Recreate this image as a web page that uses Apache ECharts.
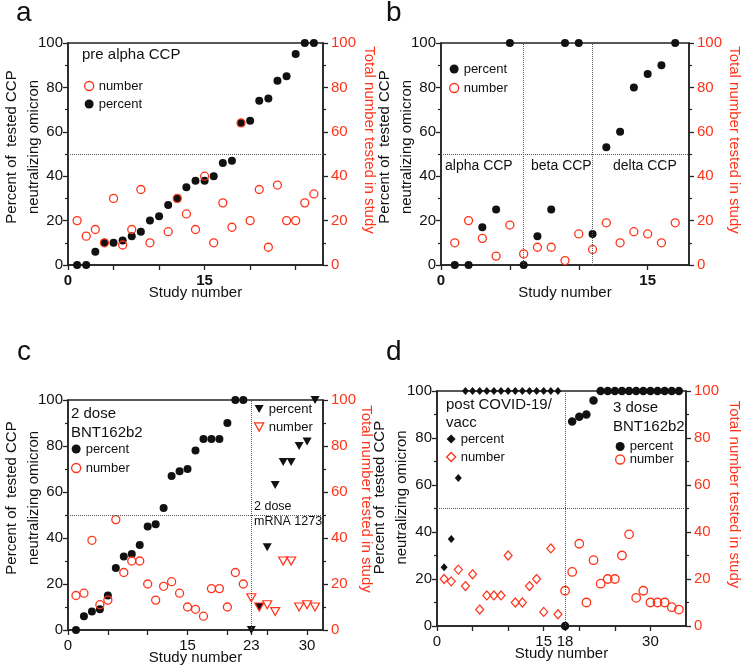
<!DOCTYPE html>
<html>
<head>
<meta charset="utf-8">
<title>Omicron neutralization by CCP and vaccinee sera</title>
<script src="https://cdn.jsdelivr.net/npm/echarts@6/dist/echarts.min.js"></script>
<style>
  html, body { margin: 0; padding: 0; background: #fff; }
  #chart { width: 746px; height: 667px; }
</style>
</head>
<body>
<div id="chart"></div>
<script>
// a: pre alpha CCP
const studyA = [1, 2, 3, 4, 5, 6, 7, 8, 9, 10, 11, 12, 13, 14, 15, 16, 17, 18, 19, 20, 21, 22, 23, 24, 25, 26, 27]
const percentA = [0, 0, 6, 10, 10, 11, 13, 15, 20, 22, 27, 30, 35, 38, 38, 40, 46, 47, 64, 65, 74, 75, 83, 85, 95, 100, 100]
const numberA = [20, 13, 16, 10, 30, 9, 16, 34, 10, null, 15, 30, 23, 16, 40, 10, 28, 17, 64, 20, 34, 8, 36, 20, 20, 28, 32]

// b: alpha / beta / delta CCP
const studyB = [1, 2, 3, 4, 5, 6, 7, 8, 9, 10, 11, 12, 13, 14, 15, 16, 17]
const percentB = [0, 0, 17, 25, 100, 0, 13, 25, 100, 100, 14, 53, 60, 80, 86, 90, 100]
const numberB = [10, 20, 12, 4, 18, 5, 8, 8, 2, 14, 7, 19, 10, 15, 14, 10, 19]
const dividersB = [6, 11]

// c: 2 dose BNT162b2 and 2 dose mRNA 1273
const studyBnt = [1, 2, 3, 4, 5, 6, 7, 8, 9, 10, 11, 12, 13, 14, 15, 16, 17, 18, 19, 20, 21, 22]
const percentBnt = [0, 6, 8, 9, 15, 27, 32, 33, 37, 45, 46, 53, 67, 69, 70, 78, 83, 83, 83, 90, 100, 100]
const numberBnt = [15, 16, 39, 11, 13, 48, 25, 30, 30, 20, 13, 19, 21, 16, 10, 9, 6, 18, 18, 10, 25, 20]
const studyMrna = [23, 24, 25, 26, 27, 28, 29, 30, 31]
const percentMrna = [0, 10, 36, 63, 73, 73, 80, 82, 100]
const numberMrna = [14, 10, 11, 8, 30, 30, 10, 11, 10]

// d: post COVID-19/vacc and 3 dose BNT162b2
const studyPost = [1, 2, 3, 4, 5, 6, 7, 8, 9, 10, 11, 12, 13, 14, 15, 16, 17]
const percentPost = [25, 37, 63, 100, 100, 100, 100, 100, 100, 100, 100, 100, 100, 100, 100, 100, 100]
const numberPost = [20, 19, 24, 17, 22, 7, 13, 13, 13, 30, 10, 10, 17, 20, 6, 33, 5]
const studyBoost = [18, 19, 20, 21, 22, 23, 24, 25, 26, 27, 28, 29, 30, 31, 32, 33, 34]
const percentBoost = [0, 87, 89, 90, 96, 100, 100, 100, 100, 100, 100, 100, 100, 100, 100, 100, 100]
const numberBoost = [15, 23, 35, 10, 28, 18, 20, 20, 30, 39, 12, 15, 10, 10, 10, 8, 7]

const FONT = "'Liberation Sans', Arial, sans-serif"
const BLACK = '#111'
const RED = '#ff3319'
const AXIS = '#222'
const TRI = 'path://M0,0L10,0L5,9Z'

const pairs = (xs, ys) => xs.map((x, i) => [x, ys[i] == null ? '-' : ys[i]])

var myChart = echarts.init(document.getElementById('chart'))
window.onresize = function () {
  myChart.resize()
}

const grids = [
  { left: 66, top: 43, width: 257, height: 222 },
  { left: 441, top: 43, width: 256, height: 222 },
  { left: 66, top: 400, width: 257, height: 230 },
  { left: 437, top: 391, width: 257, height: 235 },
].map((g) => ({ ...g, show: true, borderColor: AXIS, borderWidth: 1.5, backgroundColor: 'transparent' }))

const xAxis = (gridIndex, max, ticks, labels, bold) => ({
  type: 'value',
  gridIndex: gridIndex,
  min: 0,
  max: max,
  interval: 5,
  name: 'Study number',
  nameLocation: 'middle',
  nameGap: 20,
  nameMoveOverlap: false,
  nameTextStyle: { color: BLACK, fontSize: 15, fontFamily: FONT },
  axisLine: { lineStyle: { color: AXIS, width: 1.5 } },
  axisTick: { length: 5, customValues: ticks, lineStyle: { color: AXIS, width: 1.3 } },
  axisLabel: {
    customValues: labels,
    color: BLACK,
    fontSize: 15,
    fontWeight: bold ? 'bold' : 'normal',
    fontFamily: FONT,
    margin: 8,
  },
  splitLine: { show: false },
})

const yAxis = (gridIndex, right, gap, shift) => ({
  type: 'value',
  gridIndex: gridIndex,
  position: right ? 'right' : 'left',
  min: 0,
  max: 100,
  interval: 20,
  name: right ? 'Total number tested in study' : 'Percent of  tested CCP\nneutralizing omicron',
  nameLocation: 'middle',
  nameRotate: right ? -90 : 90,
  nameGap: gap,
  nameMoveOverlap: false,
  nameTextStyle: {
    color: right ? RED : BLACK,
    fontSize: 15,
    lineHeight: 22,
    fontFamily: FONT,
    padding: right ? [0, shift, 0, 0] : [0, 0, 0, shift],
  },
  axisLine: { show: true, lineStyle: { color: AXIS, width: 1.5 } },
  axisTick: { length: 5, lineStyle: { color: AXIS, width: 1.3 } },
  minorTick: { show: true, splitNumber: 2, length: 3, lineStyle: { color: AXIS, width: 1.2 } },
  axisLabel: { color: right ? RED : BLACK, fontSize: 15, fontFamily: FONT, margin: right ? 8 : 5 },
  splitLine: { show: false },
  minorSplitLine: { show: false },
})

const guide = (lines) => ({
  silent: true,
  symbol: 'none',
  label: { show: false },
  lineStyle: { type: 'dotted', color: '#555', width: 1 },
  data: lines,
})

const dots = (name, xi, yi, data, extra) => ({
  name: name,
  type: 'scatter',
  xAxisIndex: xi,
  yAxisIndex: yi,
  clip: false,
  symbol: 'circle',
  symbolSize: 8,
  itemStyle: { color: BLACK, opacity: 1 },
  data: data,
  ...extra,
})

const ring = { symbol: 'circle', symbolSize: 8, itemStyle: { color: 'rgba(0,0,0,0)', borderColor: RED, borderWidth: 1.3, opacity: 1 } }
const redTri = { symbol: TRI, symbolSize: [9, 8], itemStyle: { color: 'rgba(0,0,0,0)', borderColor: RED, borderWidth: 1.2, opacity: 1 } }
const redDiamond = { symbol: 'diamond', symbolSize: [8, 9], itemStyle: { color: 'rgba(0,0,0,0)', borderColor: RED, borderWidth: 1.2, opacity: 1 } }

const series = [
  dots('a:percent', 0, 0, pairs(studyA, percentA), { markLine: guide([{ yAxis: 50 }]) }),
  dots('a:number', 0, 1, pairs(studyA, numberA), ring),

  dots('b:percent', 1, 2, pairs(studyB, percentB), {
    markLine: guide([{ yAxis: 50 }, ...dividersB.map((x) => ({ xAxis: x }))]),
  }),
  dots('b:number', 1, 3, pairs(studyB, numberB), ring),

  dots('c:percent', 2, 4, pairs(studyBnt, percentBnt), { markLine: guide([{ yAxis: 50 }, { xAxis: 23 }]) }),
  dots('c:number', 2, 5, pairs(studyBnt, numberBnt), ring),
  dots('c2:percent', 2, 4, pairs(studyMrna, percentMrna), { symbol: TRI, symbolSize: [9, 8] }),
  dots('c2:number', 2, 5, pairs(studyMrna, numberMrna), redTri),

  dots('d:percent', 3, 6, pairs(studyPost, percentPost), {
    symbol: 'diamond',
    symbolSize: [7, 8],
    markLine: guide([{ yAxis: 50 }, { xAxis: 18 }]),
  }),
  dots('d:number', 3, 7, pairs(studyPost, numberPost), redDiamond),
  dots('d2:percent', 3, 6, pairs(studyBoost, percentBoost), { symbolSize: 8.5 }),
  dots('d2:number', 3, 7, pairs(studyBoost, numberBoost), { ...ring, symbolSize: 8.5 }),
]

const blackIcon = (name, icon) => ({ name: name, icon: icon, itemStyle: { color: BLACK, borderWidth: 0 } })
const redIcon = (name, icon) => ({
  name: name,
  icon: icon,
  itemStyle: { color: 'rgba(0,0,0,0)', borderColor: RED, borderWidth: 1.3 },
})

const legend = (left, top, data, gap, lineHeight) => ({
  left: left,
  top: top,
  orient: 'vertical',
  padding: 0,
  itemGap: gap,
  itemWidth: 9,
  itemHeight: 9,
  selectedMode: false,
  formatter: (n) => n.split(':')[1],
  textStyle: { color: BLACK, fontSize: 13, fontFamily: FONT, lineHeight: lineHeight || 14 },
  data: data,
})

const legends = [
  legend(84, 79, [redIcon('a:number', 'circle'), blackIcon('a:percent', 'circle')], 4),
  legend(449, 62, [blackIcon('b:percent', 'circle'), redIcon('b:number', 'circle')], 5),
  legend(71, 442, [blackIcon('c:percent', 'circle'), redIcon('c:number', 'circle')], 5),
  legend(254, 402, [blackIcon('c2:percent', TRI), redIcon('c2:number', TRI)], 4),
  legend(446, 432, [blackIcon('d:percent', 'diamond'), redIcon('d:number', 'diamond')], 4),
  legend(615, 440, [blackIcon('d2:percent', 'circle'), redIcon('d2:number', 'circle')], 0, 12),
]

const note = (text, x, y, size) => ({
  type: 'text',
  x: x,
  y: y,
  silent: true,
  style: { text: text, fill: BLACK, fontSize: size, fontFamily: FONT, verticalAlign: 'middle', align: 'left' },
})

const notes = [
  note('a', 16, 13, 28),
  note('b', 386, 13, 28),
  note('c', 17, 352, 28),
  note('d', 386, 352, 28),
  note('pre alpha CCP', 82, 55, 15),
  note('alpha CCP', 445, 166, 14),
  note('beta CCP', 531, 166, 14),
  note('delta CCP', 613, 166, 14),
  note('2 dose', 71, 414, 15),
  note('BNT162b2', 71, 433, 15),
  note('2 dose', 254, 507, 12.5),
  note('mRNA 1273', 254, 522, 12.5),
  note('post COVID-19/', 446, 405, 15),
  note('vacc', 446, 423, 15),
  note('3 dose', 613, 408, 15),
  note('BNT162b2', 613, 427, 15),
]

var option = {
  animation: false,
  textStyle: { fontFamily: FONT },
  grid: grids,
  xAxis: [
    xAxis(0, 28, [0, 5, 10, 15, 20, 25], [0, 15], true),
    xAxis(1, 18, [0, 5, 10, 15], [0, 15], true),
    xAxis(2, 32, [0, 5, 10, 15, 20, 23, 25, 30], [0, 15, 23, 30], false),
    xAxis(3, 35, [0, 5, 10, 15, 18, 20, 25, 30], [0, 15, 18, 30], false),
  ],
  yAxis: [
    yAxis(0, false, 23, 14),
    yAxis(0, true, 35, 28),
    yAxis(1, false, 23, 14),
    yAxis(1, true, 34, 28),
    yAxis(2, false, 23, 34),
    yAxis(2, true, 32, 32),
    yAxis(3, false, 24, 22),
    yAxis(3, true, 37, 28),
  ],
  legend: legends,
  graphic: notes,
  series: series,
}

myChart.setOption(option)
</script>
</body>
</html>
